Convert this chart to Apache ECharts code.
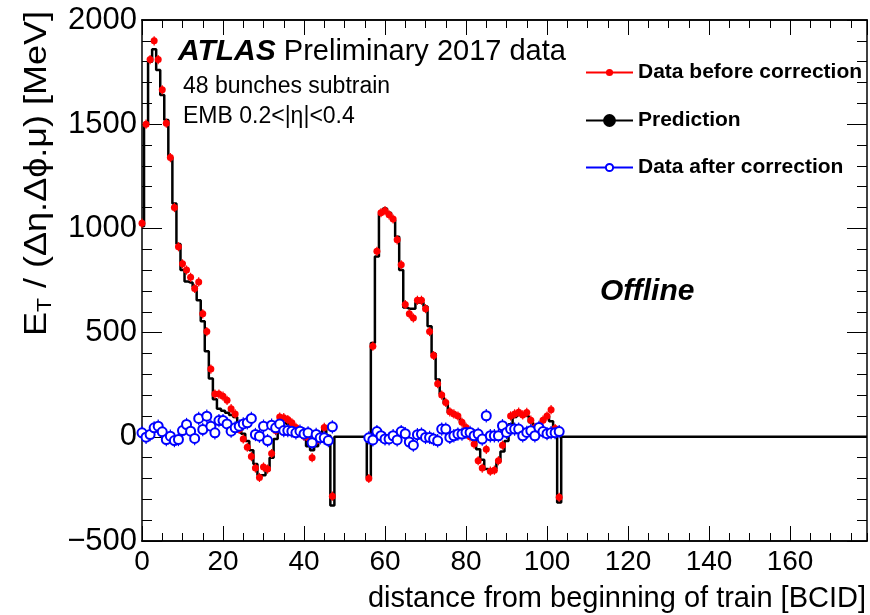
<!DOCTYPE html>
<html><head><meta charset="utf-8">
<script src="https://cdn.jsdelivr.net/npm/echarts@6/dist/echarts.min.js"></script>
<style>html,body{margin:0;padding:0;background:#fff}#c{width:870px;height:615px}</style>
</head><body><div id="c"></div>
<script>
// ---- data ----
const xMax = 179;
const train1Start = 0;
const train2Start = 56;
const xTickLabels = [0, 20, 40, 60, 80, 100, 120, 140, 160];
const yTickLabels = [-500, 0, 500, 1000, 1500, 2000];

// Prediction (black histogram), bunches of train 1 (BCID 0-47) and train 2 (BCID 56-103)
const pred1 = [1010,1500,1800,1860,1760,1640,1520,1340,1120,925,
               800,745,740,720,655,555,410,280,180,135,
               125,115,105,95,55,15,-20,-65,-130,-185,
               -185,-160,-100,-10,60,65,60,55,50,25,
               -5,-45,-65,-45,10,50,5,-330];
const pred2 = [-195,450,865,1070,1095,1075,1040,960,800,620,
               615,615,645,645,625,530,400,275,205,160,
               115,108,95,70,45,15,-15,-60,-110,-155,
               -160,-155,-120,-70,-20,60,95,105,105,100,
               70,40,40,75,100,75,20,-315];
// Data before correction (red)
const before1 = [1025,1500,1810,1900,1810,1665,1505,1340,1100,912,
                 830,800,765,712,743,590,505,325,205,205,
                 195,175,135,110,35,-10,-50,-95,-150,-195,
                 -145,-155,-80,30,95,92,83,67,45,27,
                 3,-5,-100,-20,5,45,-15,-285];
const before2 = [-200,435,890,1075,1085,1065,1045,945,825,635,
                 590,570,655,655,615,505,390,255,200,165,
                 120,110,100,70,45,0,-35,-115,-150,-60,
                 -165,-160,-115,-40,20,100,110,118,105,117,
                 80,45,37,80,100,130,40,-290];
// Data after correction (blue)
const after1 = [19,-2,11,43,51,24,-13,3,-18,-13,
                30,59,27,-8,88,35,99,51,19,78,
                78,62,27,43,51,62,67,88,11,3,
                51,-18,56,43,62,30,30,27,19,27,
                14,19,-29,11,-5,-5,-18,48];
const after2 = [-5,-15,25,5,-10,-10,5,-15,25,15,
                -25,-40,10,13,-3,-3,-11,-19,37,37,
                -3,5,13,13,21,21,5,13,-11,101,
                5,5,5,53,21,37,37,37,5,21,
                29,5,45,25,15,20,20,25];
// approximate half-size of the vertical error bars (MeV)
const errBefore = 22;
const errAfter = 32;

// ---- build series data ----
function bunch(x, a1, a2) {
  if (x >= train1Start && x < train1Start + a1.length) return a1[x - train1Start];
  if (x >= train2Start && x < train2Start + a2.length) return a2[x - train2Start];
  return null;
}
const predData = [], beforeData = [], afterData = [];
for (let x = 0; x <= xMax; x++) {
  const p = bunch(x, pred1, pred2);
  predData.push([x, p === null ? 0 : p]);
  const b = bunch(x, before1, before2);
  if (b !== null) beforeData.push([x, b]);
  const a = bunch(x, after1, after2);
  if (a !== null) afterData.push([x, a]);
}

const FONT = '"Liberation Sans", Arial, Helvetica, sans-serif';
const BLACK = '#000';

function xAx(pos, interval, len, labels) {
  return {
    type: 'value', position: pos, min: 0, max: xMax, interval: interval,
    axisLine: { show: true, onZero: false, lineStyle: { color: BLACK, width: 1.5 } },
    axisTick: { show: true, inside: true, length: len, lineStyle: { color: BLACK, width: 1 } },
    axisLabel: labels ? {
      show: true, margin: 7, color: BLACK, fontSize: 28, fontFamily: FONT,
      showMaxLabel: false,
      formatter: v => (xTickLabels.indexOf(v) >= 0 ? String(v) : '')
    } : { show: false },
    splitLine: { show: false }
  };
}
function yAx(pos, labels) {
  return {
    type: 'value', position: pos, min: yTickLabels[0], max: yTickLabels[yTickLabels.length - 1], interval: 500,
    axisLine: { show: true, onZero: false, lineStyle: { color: BLACK, width: 1.5 } },
    axisTick: { show: true, inside: true, length: 20, lineStyle: { color: BLACK, width: 1 } },
    minorTick: { show: true, splitNumber: 5, length: 10, lineStyle: { color: BLACK, width: 1 } },
    axisLabel: labels ? {
      show: true, margin: 5, color: BLACK, fontSize: 31, fontFamily: FONT,
      formatter: v => (yTickLabels.indexOf(v) >= 0 ? String(v).replace('-', '\u2212') : '')
    } : { show: false },
    splitLine: { show: false }, minorSplitLine: { show: false }
  };
}

function legendAt(name, top, itemHeight) {
  return {
    data: [name], left: 585, top: top, orient: 'vertical', padding: 0,
    itemWidth: 47, itemHeight: itemHeight, selectedMode: false,
    lineStyle: { width: 2, opacity: 1 },
    textStyle: { fontSize: 21, fontWeight: 'bold', fontFamily: FONT, color: BLACK }
  };
}

function errorBars(data, half, color) {
  return {
    type: 'custom', data: data, silent: true, z: 2.5,
    renderItem: function (params, api) {
      const x = api.value(0), y = api.value(1);
      const p1 = api.coord([x, y - half]);
      const p2 = api.coord([x, y + half]);
      return { type: 'line', shape: { x1: p1[0], y1: p1[1], x2: p2[0], y2: p2[1] },
               style: { stroke: color, lineWidth: 1.2 } };
    }
  };
}

const option = {
  animation: false,
  backgroundColor: '#fff',
  grid: { left: 142, right: 3, top: 20, bottom: 74, outerBoundsMode: 'none', containLabel: false },
  xAxis: [xAx('bottom', 20, 15, true), xAx('bottom', 5, 8, false), xAx('top', 20, 15, false), xAx('top', 5, 8, false)],
  yAxis: [yAx('left', true), yAx('right', false)],
  legend: [
    legendAt('Data before correction', 62, 9),
    legendAt('Prediction', 110, 16),
    legendAt('Data after correction', 157, 9)
  ],
  series: [
    { name: 'Prediction', type: 'line', data: predData, step: 'middle',
      symbol: 'circle', symbolSize: 12, showSymbol: false, z: 2, silent: true,
      lineStyle: { color: BLACK, width: 2.5 }, itemStyle: { color: BLACK } },
    errorBars(beforeData, errBefore, '#ff0000'),
    { name: 'Data before correction', type: 'line', data: beforeData,
      symbol: 'circle', symbolSize: 7, showSymbol: true, showAllSymbol: true, z: 3, silent: true,
      lineStyle: { color: '#ff0000', width: 0 }, itemStyle: { color: '#ff0000' } },
    errorBars(afterData, errAfter, '#0000ff'),
    { name: 'Data after correction', type: 'line', data: afterData,
      symbol: 'emptyCircle', symbolSize: 9, showSymbol: true, showAllSymbol: true, z: 4, silent: true,
      lineStyle: { color: '#0000ff', width: 0 },
      itemStyle: { color: '#0000ff', borderColor: '#0000ff', borderWidth: 1.3 } }
  ],
  graphic: [
    { type: 'text', x: 178, y: 52, style: {
        text: '{a|ATLAS}{p| Preliminary 2017 data}', align: 'left', verticalAlign: 'middle',
        textAlign: 'left', textVerticalAlign: 'middle',
        rich: { a: { fontSize: 30, fontWeight: 'bold', fontStyle: 'italic', fontFamily: FONT, fill: BLACK },
                p: { fontSize: 29, fontFamily: FONT, fill: BLACK } } } },
    { type: 'text', x: 183, y: 87, style: { text: '48 bunches subtrain', fontSize: 23, fontFamily: FONT, fill: BLACK,
        align: 'left', verticalAlign: 'middle', textAlign: 'left', textVerticalAlign: 'middle' } },
    { type: 'text', x: 183, y: 117, style: { text: 'EMB 0.2<|\u03b7|<0.4', fontSize: 23, fontFamily: FONT, fill: BLACK,
        align: 'left', verticalAlign: 'middle', textAlign: 'left', textVerticalAlign: 'middle' } },
    { type: 'text', x: 600, y: 292, style: { text: 'Offline', fontSize: 30, fontWeight: 'bold', fontStyle: 'italic',
        fontFamily: FONT, fill: BLACK, align: 'left', verticalAlign: 'middle', textAlign: 'left', textVerticalAlign: 'middle' } },
    { type: 'text', x: 866, y: 599, style: { text: 'distance from beginning of train [BCID]', fontSize: 29, fontFamily: FONT,
        fill: BLACK, align: 'right', verticalAlign: 'middle', textAlign: 'right', textVerticalAlign: 'middle' } },
    { type: 'text', x: 38, y: 336, rotation: Math.PI / 2, scaleY: 0.85, style: {
        text: '{e|E}{t|T}{e| / (\u0394\u03b7.\u0394\u03d5.\u03bc) [MeV]}', align: 'left', verticalAlign: 'middle',
        textAlign: 'left', textVerticalAlign: 'middle',
        rich: { e: { fontSize: 36, lineHeight: 40, fontFamily: FONT, fill: BLACK },
                t: { fontSize: 23, lineHeight: 15, verticalAlign: 'bottom', fontFamily: FONT, fill: BLACK } } } }
  ]
};
const chart = echarts.init(document.getElementById('c'), null, { renderer: 'canvas' });
chart.setOption(option);
</script>
</body></html>
